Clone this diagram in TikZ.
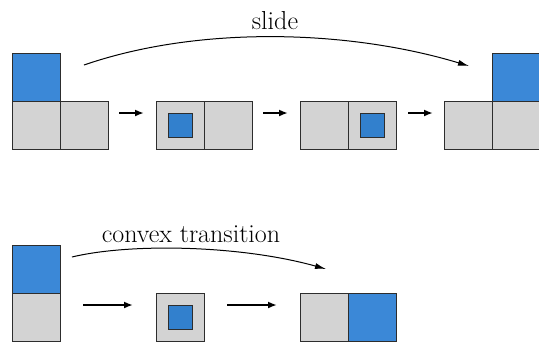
\documentclass[tikz,border=0pt]{standalone}
\usetikzlibrary{arrows.meta}
\definecolor{cellgray}{RGB}{211,211,211}
\definecolor{cellblue}{RGB}{59,136,215}
\definecolor{dotblue}{RGB}{50,128,205}
\definecolor{edge}{RGB}{45,45,45}
\tikzset{
  cell/.style={draw=edge, line width=1pt, fill=cellgray, minimum size=48pt, inner sep=0pt, outer sep=0pt},
  bluecell/.style={cell, fill=cellblue},
  dot/.style={draw=edge, line width=1pt, fill=dotblue, minimum size=24pt, inner sep=0pt, outer sep=0pt},
  stepar/.style={-{Latex[length=9pt,width=7pt]}, line width=1.8pt},
  arcarrow/.style={-{Latex[length=11pt,width=6pt]}, line width=1pt},
  lbl/.style={font=\fontsize{26}{30}\selectfont, inner sep=0pt}
}
\begin{document}
\begin{tikzpicture}[x=1pt,y=-1pt]
\useasboundingbox (0,0) rectangle (539,341);
% top row: slide
\node[bluecell] (t1u) at (36,77) {};
\node[cell] (t1a) at (36,125) {};
\node[cell] (t1b) at (84,125) {};
\node[cell] (t2a) at (180,125) {};
\node[cell] (t2b) at (228,125) {};
\node[dot] (t2d) at (t2a) {};
\node[cell] (t3a) at (324,125) {};
\node[cell] (t3b) at (372,125) {};
\node[dot] (t3d) at (t3b) {};
\node[cell] (t4a) at (468,125) {};
\node[cell] (t4b) at (516,125) {};
\node[bluecell] (t4u) at (516,77) {};
% step arrows run between points a little above the cell centres
\coordinate (a1s) at (119,113);
\coordinate (a1e) at (144,113);
\coordinate (a2s) at (263,113);
\coordinate (a2e) at (288,113);
\coordinate (a3s) at (408,113);
\coordinate (a3e) at (433,113);
\draw[stepar] (a1s) -- (a1e);
\draw[stepar] (a2s) -- (a2e);
\draw[stepar] (a3s) -- (a3e);
\coordinate (ts) at (84,65);
\coordinate (te) at (469,66);
\draw[arcarrow] (ts) .. controls (200,25) and (350,30) .. (te);
\node[lbl] (tl) at (275,21) {slide};
% bottom row: convex transition
\node[bluecell] (b1u) at (36,269) {};
\node[cell] (b1a) at (36,317) {};
\node[cell] (b2a) at (180,317) {};
\node[dot] (b2d) at (b2a) {};
\node[cell] (b3a) at (324,317) {};
\node[bluecell] (b3b) at (372,317) {};
\coordinate (b1s) at (83,305);
\coordinate (b1e) at (133,305);
\coordinate (b2s) at (227,305);
\coordinate (b2e) at (277,305);
\draw[stepar] (b1s) -- (b1e);
\draw[stepar] (b2s) -- (b2e);
\coordinate (bs) at (72,257);
\coordinate (be) at (326,269);
\draw[arcarrow] (bs) .. controls (130,243) and (240,245) .. (be);
\node[lbl] (bl) at (191,234) {convex transition};
\end{tikzpicture}
\end{document}
